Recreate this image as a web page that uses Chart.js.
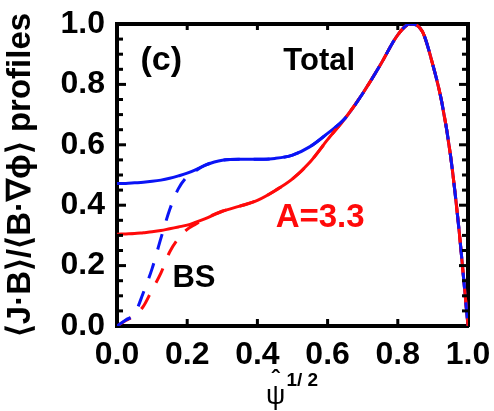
<!DOCTYPE html>
<html>
<head>
<meta charset="utf-8">
<script src="https://cdn.jsdelivr.net/npm/chart.js@4/dist/chart.umd.min.js"></script>
<style>
  html, body { margin: 0; padding: 0; background: #fff; }
  #wrap { width: 494px; height: 411px; }
</style>
</head>
<body>
<div id="wrap"><canvas id="profiles"></canvas></div>
<script>
// normalised radius sqrt(psi_hat)
const psi = [0, 0.025, 0.05, 0.075, 0.1, 0.125, 0.15, 0.175, 0.2, 0.225, 0.25, 0.3, 0.35, 0.4,
             0.45, 0.5, 0.55, 0.6, 0.65, 0.7, 0.75, 0.8, 0.835, 0.87, 0.9, 0.925, 0.95, 0.975, 0.99, 1.0];

// <J.B>/<B.grad phi>, normalised to the peak
const totalBlue = [0.472, 0.472, 0.474, 0.476, 0.479, 0.483, 0.489, 0.497, 0.506, 0.518, 0.532, 0.549, 0.552, 0.552,
                   0.555, 0.566, 0.594, 0.638, 0.688, 0.77, 0.864, 0.964, 1.0, 0.975, 0.864, 0.743, 0.566, 0.312, 0.126, 0];
const totalRed  = [0.304, 0.305, 0.306, 0.309, 0.312, 0.316, 0.322, 0.328, 0.334, 0.344, 0.355, 0.38, 0.397, 0.416,
                   0.448, 0.487, 0.543, 0.617, 0.688, 0.77, 0.864, 0.964, 1.0, 0.975, 0.864, 0.743, 0.566, 0.312, 0.126, 0];
// bootstrap part
const bsBlue    = [0, 0.02, 0.04, 0.11, 0.19, 0.29, 0.385, 0.455, 0.495, 0.515, 0.532, 0.549, 0.552, 0.552,
                   0.555, 0.566, 0.594, 0.638, 0.688, 0.77, 0.864, 0.964, 1.0, 0.975, 0.864, 0.743, 0.566, 0.312, 0.126, 0];
const bsRed     = [0, 0.018, 0.035, 0.065, 0.12, 0.175, 0.245, 0.29, 0.32, 0.338, 0.355, 0.38, 0.397, 0.416,
                   0.448, 0.487, 0.543, 0.617, 0.688, 0.77, 0.864, 0.964, 1.0, 0.975, 0.864, 0.743, 0.566, 0.312, 0.126, 0];

// tick values on both axes, minor ticks every 0.05 on y
const xTicks = [0, 0.2, 0.4, 0.6, 0.8, 1.0];
const yMinor = [0.05, 0.1, 0.15, 0.2, 0.25, 0.3, 0.35, 0.4, 0.45, 0.5, 0.55, 0.6, 0.65, 0.7, 0.75, 0.8, 0.85, 0.9, 0.95];

const RED = '#ff0a0a';
const BLUE = '#0a14f5';
const FONT = '"Liberation Sans", Arial, sans-serif';

const pts = ys => psi.map((x, i) => ({ x: x, y: ys[i] }));

const line = (label, ys, color, dashed) => ({
    label: label,
    data: pts(ys),
    borderColor: color,
    borderWidth: 3,
    borderDash: dashed ? [16, 14] : [],
    pointRadius: 0,
    fill: false,
    cubicInterpolationMode: 'monotone'
});

// text labels placed in data coordinates
const notes = [
    { text: '(c)',   x: 0.067, y: 0.88,  size: 34, color: '#000', base: 'middle' },
    { text: 'Total', x: 0.474, y: 0.848, size: 31, color: '#000', base: 'alphabetic' },
    { text: 'A=3.3', x: 0.452, y: 0.328, size: 33, color: RED,    base: 'alphabetic' },
    { text: 'BS',    x: 0.158, y: 0.129, size: 31, color: '#000', base: 'alphabetic' }
];

// inward ticks, in-plot labels and the x title
const framePlugin = {
    id: 'frame',
    afterDraw(chart) {
        const { ctx, chartArea: a } = chart;
        const sx = chart.scales.x, sy = chart.scales.y;
        ctx.save();
        ctx.fillStyle = '#000';
        xTicks.slice(1, -1).forEach(v => {
            const px = sx.getPixelForValue(v);
            ctx.fillRect(px - 1.5, a.bottom - 7, 3, 7);
            ctx.fillRect(px - 1.5, a.top, 3, 6);
        });
        yMinor.forEach((v, k) => {
            const len = (k + 1) % 4 === 0 ? 9 : 6;
            const py = sy.getPixelForValue(v);
            ctx.fillRect(a.left, py - 1.5, len, 3);
            ctx.fillRect(a.right - len, py - 1.5, len, 3);
        });

        notes.forEach(n => {
            ctx.font = 'bold ' + n.size + 'px ' + FONT;
            ctx.fillStyle = n.color;
            ctx.textAlign = 'left';
            ctx.textBaseline = n.base;
            ctx.fillText(n.text, sx.getPixelForValue(n.x), sy.getPixelForValue(n.y));
        });

        // psi-hat to the 1/2
        const cx = (a.left + a.right) / 2 - 17;
        ctx.fillStyle = '#000';
        ctx.textAlign = 'center';
        ctx.textBaseline = 'alphabetic';
        ctx.font = '27px ' + FONT;
        ctx.fillText('\u03C8', cx, 404);
        ctx.font = 'bold 24px ' + FONT;
        ctx.fillText('\u02C6', cx, 387);
        ctx.textAlign = 'left';
        ctx.font = 'bold 19px ' + FONT;
        ctx.fillText('1/ 2', cx + 11, 386);
        ctx.restore();
    }
};

const edge = { display: true, width: 4, color: '#000' };

new Chart(document.getElementById('profiles'), {
    type: 'line',
    data: {
        datasets: [
            line('BS', bsBlue, BLUE, true),
            line('BS A=3.3', bsRed, RED, true),
            line('Total A=3.3', totalRed, RED, false),
            line('Total', totalBlue, BLUE, false)
        ]
    },
    options: {
        responsive: true,
        maintainAspectRatio: false,
        animation: false,
        layout: { padding: { top: 24, right: 26, left: 0, bottom: 0 } },
        plugins: { legend: { display: false }, tooltip: { enabled: false } },
        scales: {
            x: {
                type: 'linear',
                min: 0, max: 1,
                afterFit: s => { s.height = 85; s.paddingLeft = 0; s.paddingRight = 0; },
                grid: { display: false, drawTicks: false },
                border: edge,
                ticks: {
                    stepSize: 0.2,
                    padding: 10,
                    color: '#000',
                    font: { family: FONT, size: 32, weight: 'bold' },
                    maxRotation: 0,
                    callback: v => v.toFixed(1)
                }
            },
            // top and right edges of the box
            xTop: {
                type: 'linear',
                position: 'top',
                display: true,
                min: 0, max: 1,
                afterFit: s => { s.height = 0; s.paddingLeft = 0; s.paddingRight = 0; },
                grid: { display: false, drawTicks: false },
                border: edge,
                ticks: { display: false }
            },
            yRight: {
                type: 'linear',
                position: 'right',
                display: true,
                min: 0, max: 1,
                afterFit: s => { s.width = 0; s.paddingTop = 0; s.paddingBottom = 0; },
                grid: { display: false, drawTicks: false },
                border: edge,
                ticks: { display: false }
            },
            y: {
                min: 0, max: 1,
                afterFit: s => { s.width = 117; s.paddingTop = 0; s.paddingBottom = 0; },
                grid: { display: false, drawTicks: false },
                border: edge,
                title: {
                    display: true,
                    text: '\u27E8J\u00B7B\u27E9/\u27E8B\u00B7\u2207\u03D5\u27E9 profiles',
                    color: '#000',
                    font: { family: FONT, size: 33, weight: 'bold' },
                    padding: { top: 1, bottom: 0 }
                },
                ticks: {
                    stepSize: 0.2,
                    padding: 12,
                    color: '#000',
                    font: { family: FONT, size: 32, weight: 'bold' },
                    callback: v => v.toFixed(1)
                }
            }
        }
    },
    plugins: [framePlugin]
});
</script>
</body>
</html>
